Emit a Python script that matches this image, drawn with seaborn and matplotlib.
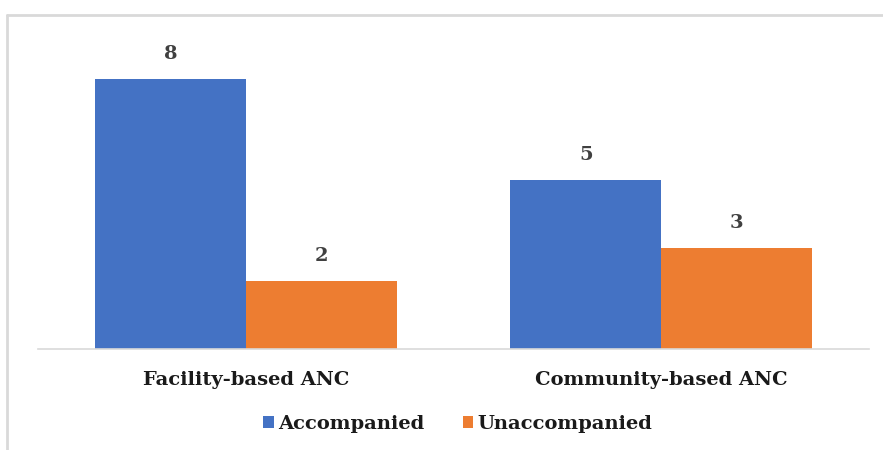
import pandas as pd
import matplotlib.pyplot as plt
import seaborn as sns
from matplotlib.lines import Line2D

# data
categories = ['Facility-based ANC', 'Community-based ANC']
series = ['Accompanied', 'Unaccompanied']
accompanied = [8, 5]
unaccompanied = [2, 3]
colors = ['#4472C4', '#ED7D31']

df = pd.DataFrame({
    'category': categories * 2,
    'group': [series[0]] * 2 + [series[1]] * 2,
    'count': accompanied + unaccompanied,
})

sns.set_style('white')
plt.rcParams['font.family'] = ['DejaVu Serif']
plt.rcParams['font.weight'] = 'bold'

fig = plt.figure(figsize=(8.83, 4.5), dpi=100)
ax = fig.add_axes([38 / 883, 1 - 349 / 450, 831 / 883, 304 / 450])

sns.barplot(data=df, x='category', y='count', hue='group', order=categories,
            hue_order=series, palette=colors, width=0.726, saturation=1,
            linewidth=0, ax=ax, legend=True)

for cont in ax.containers:
    ax.bar_label(cont, padding=11.5, fontsize=14, fontweight='bold', color='#404040')

ax.set_xlim(-0.5, 1.5)
ax.set_ylim(0, 9)
ax.set_xlabel('')
ax.set_ylabel('')
ax.set_yticks([])
ax.tick_params(axis='x', length=0, pad=16, labelsize=14, labelcolor='#1a1a1a')
for lbl in ax.get_xticklabels():
    lbl.set_fontweight('bold')
for side in ['top', 'right', 'left']:
    ax.spines[side].set_visible(False)
ax.spines['bottom'].set_color('#d9d9d9')
ax.spines['bottom'].set_linewidth(1.2)

ax.legend(loc='upper center', bbox_to_anchor=(0.505, -0.16), ncol=2, frameon=False,
          handlelength=0.55, handleheight=0.55, handletextpad=0.2, columnspacing=2.0,
          prop={'size': 14, 'weight': 'bold'}, labelcolor='#1a1a1a')

# light outer frame of the chart area (cropped at right and bottom)
top_y = 1 - 14.5 / 450
left_x = 7 / 883
fig.add_artist(Line2D([left_x, 1.0], [top_y, top_y], transform=fig.transFigure,
                      color='#d9d9d9', linewidth=2))
fig.add_artist(Line2D([left_x, left_x], [0.0, top_y], transform=fig.transFigure,
                      color='#d9d9d9', linewidth=2))

fig.savefig('out.png', dpi=100)
